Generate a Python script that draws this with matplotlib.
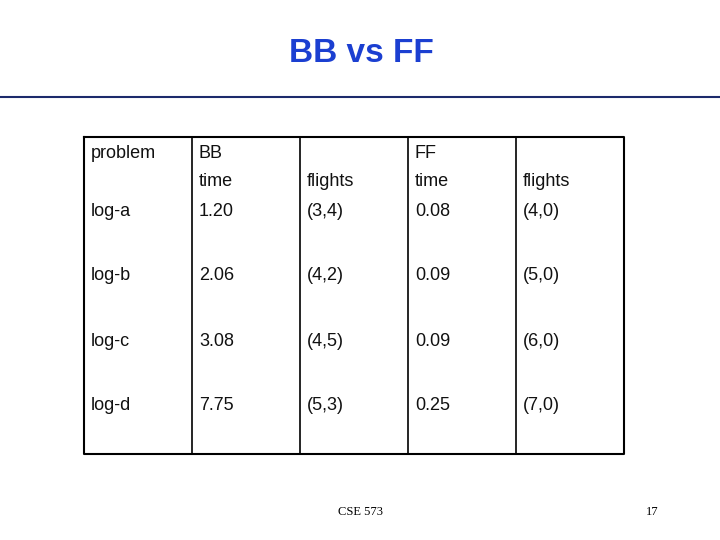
import matplotlib
matplotlib.use("Agg")
import matplotlib.pyplot as plt

title = "BB vs FF"
header1 = ["problem", "BB", "", "FF", ""]
header2 = ["", "time", "flights", "time", "flights"]
problems = ["log-a", "log-b", "log-c", "log-d"]
bb_time = ["1.20", "2.06", "3.08", "7.75"]
bb_flights = ["(3,4)", "(4,2)", "(4,5)", "(5,3)"]
ff_time = ["0.08", "0.09", "0.09", "0.25"]
ff_flights = ["(4,0)", "(5,0)", "(6,0)", "(7,0)"]

fig = plt.figure(figsize=(7.2, 5.4), dpi=100)
ax = fig.add_axes([0, 0, 1, 1])
ax.set_xlim(0, 720); ax.set_ylim(540, 0); ax.axis("off")

ax.text(361, 54, title, ha="center", va="center", fontsize=24, fontweight="bold",
        color="#1b3fd1", family="Liberation Sans")
ax.plot([0, 720], [97, 97], color="#1c2a6b", lw=1.5)

cols = [84, 192, 300, 408, 516, 624]
top, bot = 137, 454
ax.plot([84, 624, 624, 84, 84], [top, top, bot, bot, top], color="black", lw=1.5)
for x in cols[1:-1]:
    ax.plot([x, x], [top, bot], color="black", lw=1.2)

fs = 13
kw = dict(fontsize=fs, family="Liberation Sans", va="center", ha="left", color="#111111")
for i, t in enumerate(header1):
    ax.text(cols[i] + 7, 153, t, **kw)
for i, t in enumerate(header2):
    ax.text(cols[i] + 7, 182, t, **kw)
ys = [211, 276, 341, 405]
for r in range(4):
    row = [problems[r], bb_time[r], bb_flights[r], ff_time[r], ff_flights[r]]
    for i, t in enumerate(row):
        ax.text(cols[i] + 7, ys[r], t, **kw)

ax.text(360, 512, "CSE 573", ha="center", va="center", fontsize=9, family="Liberation Serif")
ax.text(652, 512, "17", ha="center", va="center", fontsize=9, family="Liberation Serif")

fig.savefig("out.png", dpi=100)
